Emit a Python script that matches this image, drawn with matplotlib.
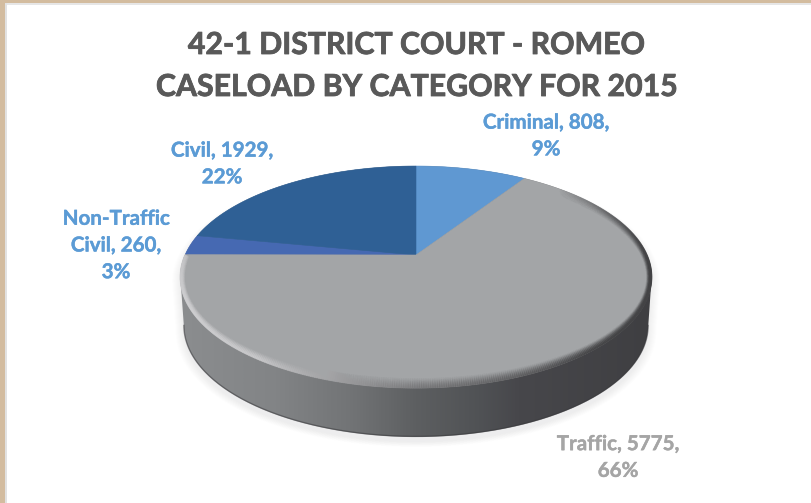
import numpy as np
import matplotlib
matplotlib.use("Agg")
import matplotlib.pyplot as plt
import matplotlib.patheffects as pe
from matplotlib.path import Path
from matplotlib.patches import PathPatch, Rectangle
from matplotlib.collections import LineCollection
from matplotlib.colors import LinearSegmentedColormap

title_lines = ["42-1 DISTRICT COURT - ROMEO", "CASELOAD BY CATEGORY FOR 2015"]
categories = ["Criminal", "Traffic", "Non-Traffic\nCivil", "Civil"]
values = [808, 5775, 260, 1929]
percents = [9, 66, 3, 22]
colors = ["#5f98d2", "#a3a5a7", "#4669b2", "#2f6095"]
label_colors = ["#5b9bd5", "#a5a5a5", "#5b9bd5", "#5b9bd5"]

W, H = 812, 503
CX, CY = 416.0, 255.0
A, B, K = 231.0, 106.6, 0.198
DEPTH, SHRINK = 49.0, 0.985

plt.rcParams["font.family"] = ["Lato", "DejaVu Sans"]
fig = plt.figure(figsize=(W / 100, H / 100), dpi=100)
ax = fig.add_axes([0, 0, 1, 1])


def project(theta, shrink=1.0, dy=0.0):
    u = np.sin(theta)
    v = np.cos(theta)
    s = 1 / (1 + K * v)
    return CX + shrink * A * u * s, CY - B * v * s + dy


# Outline of the whole solid
ex_l = np.arctan2(-np.sqrt(1 - K ** 2), -K) % (2 * np.pi)
ex_r = np.arctan2(np.sqrt(1 - K ** 2), -K)
back = np.linspace(ex_l, ex_r + 2 * np.pi, 300)
front = np.linspace(ex_r, ex_l, 300)
bx, by = project(back)
fx, fy = project(front, shrink=SHRINK, dy=DEPTH)
hx = np.r_[bx, fx, bx[0]]
hy = np.r_[by, fy, by[0]]

# Soft shadow
for grow in np.linspace(1.035, 1.0, 9):
    sx = CX + (hx - CX) * grow
    sy = (CY + 35) + (hy - (CY + 35)) * grow + 5
    ax.fill(sx, sy, color="#8a8a9a", alpha=0.012, lw=0, zorder=1)

# Side wall gradient
cmap = LinearSegmentedColormap.from_list(
    "side",
    [(0.00, "#8b8d8f"), (0.20, "#828486"), (0.36, "#727476"), (0.50, "#5d5f61"),
     (0.635, "#505255"), (0.72, "#47474b"), (1.00, "#3f3f42")],
)
img = ax.imshow(np.linspace(0, 1, 400)[None, :], cmap=cmap, aspect="auto",
                extent=(hx.min(), hx.max(), hy.max(), hy.min()), zorder=2,
                interpolation="bilinear")
clip = PathPatch(Path(np.c_[hx, hy]), transform=ax.transData, fc="none", ec="none")
ax.add_patch(clip)
img.set_clip_path(clip)
ax.plot(fx, fy - 0.5, color="#3a3a3d", lw=1.0, alpha=0.55, zorder=3)

# Top face wedges, clockwise from 12 o'clock
edges = np.r_[0, np.cumsum(values)] / np.sum(values) * 2 * np.pi
for i, col in enumerate(colors):
    t = np.linspace(edges[i], edges[i + 1], 240)
    x, y = project(t)
    ax.fill(np.r_[CX, x], np.r_[CY, y], color=col, lw=0.4, ec=col,
            zorder=4 if i != 1 else 5)


# Rim bevel on the traffic slice
def rim_grey(a):
    deg = np.degrees(a)
    return np.interp(deg, [60, 95, 140, 178, 215, 245, 270],
                     [0.30, 0.26, 0.27, 0.46, 0.80, 0.82, 0.78])


def rim_fade(a):
    deg = np.degrees(a)
    return np.interp(deg, [45, 75, 100, 262, 270], [0.0, 0.5, 1.0, 1.0, 0.8])


EY = CY + 22
t = np.linspace(np.radians(45), edges[2] - 0.004, 500)
x0, y0 = project(t)
g = rim_grey(t[:-1])
fade = rim_fade(t[:-1])
for d in np.arange(0.0, 10.0, 0.5):
    level = (1 - d / 10) ** 1.6 * 0.5
    x = CX + (x0 - CX) * (1 - 0.55 * d / 236)
    y = EY + (y0 - EY) * (1 - d / 111)
    pts = np.c_[x, y]
    segs = np.stack([pts[:-1], pts[1:]], axis=1)
    rgba = np.c_[g, g, g + 0.008, level * fade]
    ax.add_collection(LineCollection(segs, colors=rgba, linewidths=1.0, zorder=6,
                                     capstyle="round"))

# Page frame
tan = "#d3bc9f"
ax.add_patch(Rectangle((0, 0), W, 3.4, fc=tan, ec="none", zorder=9))
ax.add_patch(Rectangle((0, 3.4), W, 1.8, fc="#e6e6e6", ec="none", zorder=8))
ax.add_patch(Rectangle((0, 0), 5.4, H, fc=tan, ec="none", zorder=9))
ax.add_patch(Rectangle((5.4, 3.4), 1.6, H, fc="#e2e2e2", ec="none", zorder=8))

# Text
for line, yy in zip(title_lines, [45, 87]):
    ax.text(416, yy, line, ha="center", va="center", fontsize=21.8,
            fontweight="bold", color="#595959", zorder=10,
            path_effects=[pe.withStroke(linewidth=0.6, foreground="#595959")])

label_pos = [(546, 136), (618, 457.5), (116, 245.5), (222, 164)]
for cat, val, pct, col, (lx, ly) in zip(categories, values, percents, label_colors, label_pos):
    ax.text(lx, ly, f"{cat}, {val},\n{pct}%", ha="center", va="center", fontsize=14.8,
            fontweight="bold", color=col, linespacing=1.42, zorder=10,
            path_effects=[pe.withStroke(linewidth=0.3, foreground=col)])

ax.set_xlim(0, W)
ax.set_ylim(H, 0)
ax.axis("off")
fig.savefig("out.png", dpi=100, facecolor="white")
